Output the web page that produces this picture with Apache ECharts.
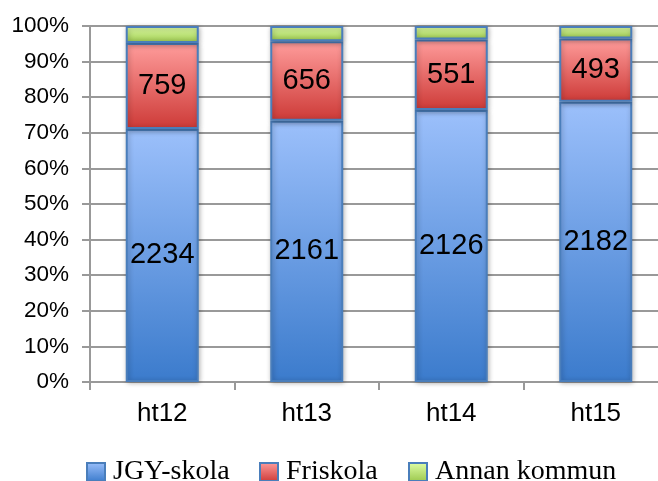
<!DOCTYPE html>
<html>
<head>
<meta charset="utf-8">
<script src="https://cdn.jsdelivr.net/npm/echarts@6/dist/echarts.min.js"></script>
<style>html,body{margin:0;padding:0;background:#fff;overflow:hidden;width:658px;height:481px;}#c{width:668px;height:481px;}</style>
</head>
<body>
<div id="c"></div>
<script>
var categories = ['ht12', 'ht13', 'ht14', 'ht15'];
var jgySkola = [2234, 2161, 2126, 2182];
var friskola = [759, 656, 551, 493];
var annanKommun = [150, 127, 106, 97];
var seriesNames = ['JGY-skola', 'Friskola', 'Annan kommun'];
var yTicks = [0, 10, 20, 30, 40, 50, 60, 70, 80, 90, 100];

var raw = [jgySkola, friskola, annanKommun];
var totals = categories.map(function (_, i) { return jgySkola[i] + friskola[i] + annanKommun[i]; });
function pct(arr) { return arr.map(function (v, i) { return v / totals[i] * 100; }); }

function grad(top, bottom) {
  return new echarts.graphic.LinearGradient(0, 0, 0, 1, [
    { offset: 0, color: top }, { offset: 1, color: bottom }
  ]);
}
var fills = [grad('#9cc0fb', '#3b7bcc'), grad('#ff9d9c', '#cd3a37'), grad('#e0ffa8', '#9bc74c')];
var legendLefts = [81, 254, 403];

var chart = echarts.init(document.getElementById('c'));
chart.setOption({
  animation: false,
  grid: { left: 90, right: 0, top: 26, bottom: 99 },
  legend: [0, 1, 2].map(function (k) {
    return {
      left: legendLefts[k], top: 453,
      itemWidth: 18, itemHeight: 18,
      icon: 'rect',
      textStyle: { fontFamily: 'Liberation Serif', fontSize: 28, color: '#000', padding: [0, 0, 0, 3] },
      data: [seriesNames[k]]
    };
  }),
  xAxis: {
    type: 'category', data: categories,
    axisLine: { lineStyle: { color: '#999', width: 2 } },
    axisTick: { show: true, length: 8, lineStyle: { color: '#999', width: 2 } },
    axisLabel: { color: '#000', fontSize: 26, fontFamily: 'Liberation Sans', margin: 19 }
  },
  yAxis: {
    type: 'value', min: 0, max: 100, interval: 10,
    axisLine: { show: true, lineStyle: { color: '#999', width: 2 } },
    axisTick: { show: true, length: 8, lineStyle: { color: '#999', width: 2 } },
    splitLine: { lineStyle: { color: '#999', width: 2 } },
    axisLabel: {
      color: '#000', fontSize: 22.5, fontFamily: 'Liberation Sans', margin: 21,
      formatter: function (v) { return yTicks.indexOf(v) >= 0 ? v + '%' : ''; }
    }
  },
  series: [0, 1, 2].map(function (k) {
    return {
      name: seriesNames[k], type: 'bar', stack: 'total', barWidth: 73,
      data: pct(raw[k]),
      itemStyle: {
        color: fills[k], borderColor: '#4a7ebb', borderWidth: 2,
        shadowBlur: 5, shadowColor: 'rgba(0,0,0,0.3)', shadowOffsetX: 1, shadowOffsetY: 1
      },
      label: {
        show: k < 2, position: 'inside', color: '#000', fontSize: 29, fontFamily: 'Liberation Sans',
        formatter: function (p) { return String(raw[k][p.dataIndex]); }
      }
    };
  })
});
</script>
</body>
</html>
